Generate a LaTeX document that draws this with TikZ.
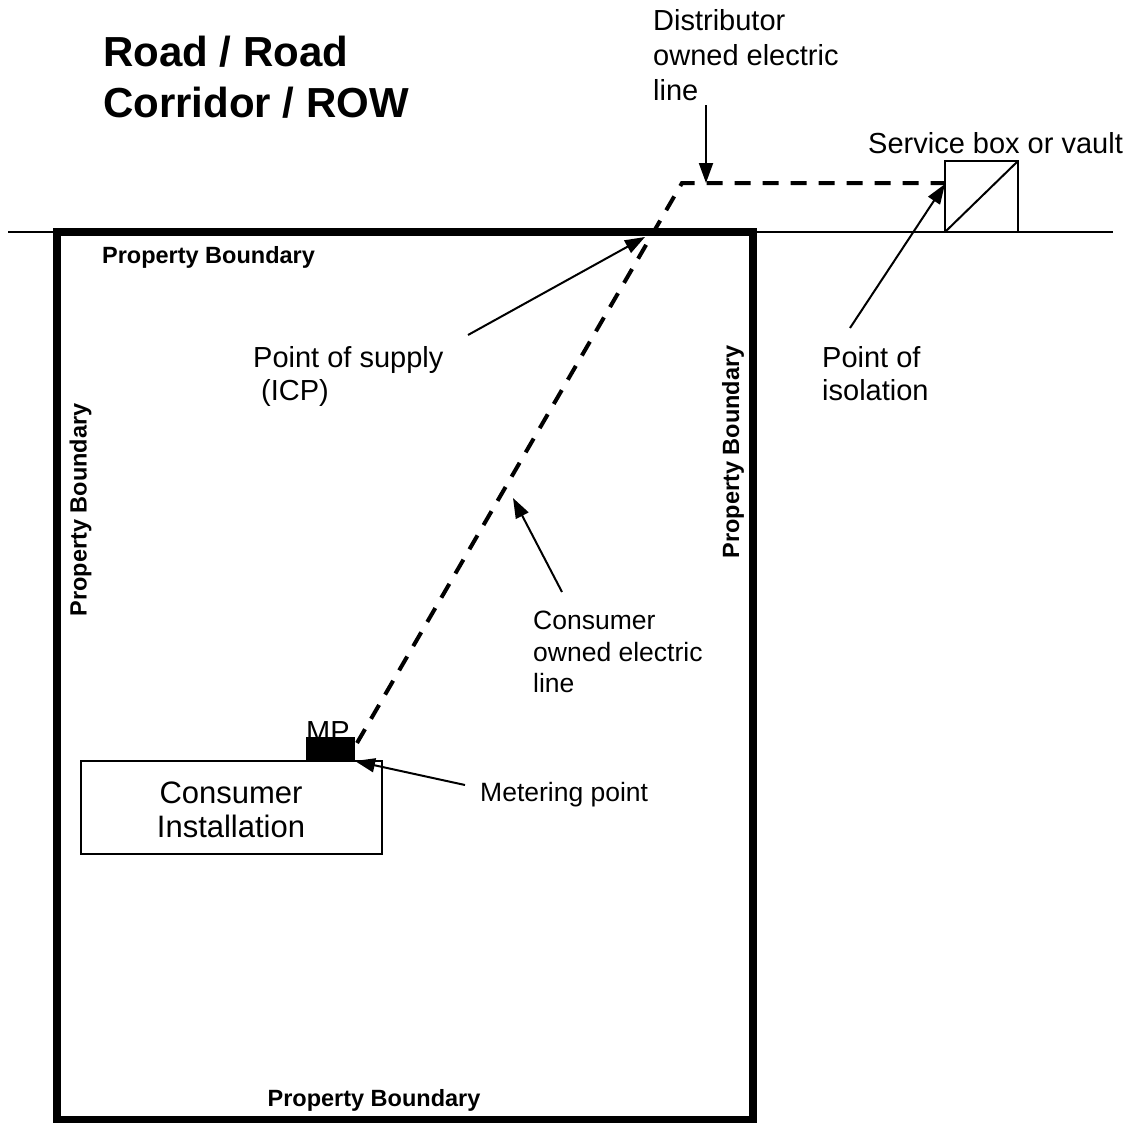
\documentclass[tikz,border=0pt]{standalone}
\usepackage{fontspec}
\setmainfont{Liberation Sans}
\usetikzlibrary{arrows.meta}
\begin{document}
\begin{tikzpicture}[x=1pt,y=-1pt,
  thinline/.style={line width=2pt},
  boundary/.style={line width=8pt},
  cable/.style={line width=4pt,dash pattern=on 16pt off 12pt},
  pointer/.style={line width=2pt,-{Triangle[length=20pt,width=14pt]}},
  lbl/.style={inner sep=0pt,font=\fontsize{29}{35}\selectfont,align=left,anchor=north west},
  smalllbl/.style={inner sep=0pt,font=\fontsize{26.5}{31.5}\selectfont,align=left},
  pb/.style={inner sep=0pt,font=\fontsize{23.5}{28}\selectfont\bfseries,anchor=base}]
\useasboundingbox (0,0) rectangle (1135,1122);
% road line
\coordinate (roadL) at (8,232);
\coordinate (roadR) at (1113,232);
\draw[thinline] (roadL) -- (roadR);
% property boundary
\coordinate (p1) at (57,232);
\coordinate (p2) at (753,1120);
\draw[boundary] (p1) rectangle (p2);
% service box
\coordinate (sb1) at (945,232);
\coordinate (sb2) at (1018,161);
\draw[thinline,fill=white] (sb1) rectangle (sb2);
\draw[thinline] (sb1) -- (sb2);
% title
\node[inner sep=0pt,anchor=north west,align=left,font=\fontsize{42}{51}\selectfont\bfseries] (title) at (103,36) {Road / Road\\Corridor / ROW};
% labels
\node[lbl] (dist) at (653,9) {Distributor\\owned electric\\line};
\node[lbl] (svc) at (868,132) {Service box or vault};
\node[lbl,font=\fontsize{29}{33}\selectfont] (pos) at (253,346) {Point of supply\\\hspace*{8pt}(ICP)};
\node[lbl,font=\fontsize{29}{33}\selectfont] (poi) at (822,346) {Point of\\isolation};
\node[smalllbl,anchor=north west] (col) at (533,611) {Consumer\\owned electric\\line};
\node[smalllbl,anchor=base west] (mpl) at (480,801) {Metering point};
\node[pb] (pbtop) at (208.5,263) {Property Boundary};
\node[pb] (pbbot) at (374,1106) {Property Boundary};
\node[pb,rotate=90] (pbleft) at (86.5,510) {Property Boundary};
\node[pb,rotate=90] (pbright) at (739,452) {Property Boundary};
% consumer installation
\node[thinline,draw,fill=white,minimum width=301pt,minimum height=93pt,inner sep=0pt] (ci) at (231.5,807.5) {};
\node[inner sep=0pt,align=center,font=\fontsize{31}{34}\selectfont] (citext) at (231,810) {Consumer\\Installation};
% MP
\node[inner sep=0pt,anchor=base west,font=\fontsize{29}{35}\selectfont] (mptext) at (306,741) {MP};
\coordinate (mp1) at (306,737);
\coordinate (mp2) at (355,761);
\fill (mp1) rectangle (mp2);
% cable
\coordinate (c1) at (357,743);
\coordinate (c2) at (682,183);
\coordinate (c3) at (945,183);
\draw[cable] (c1) -- (c2) -- (c3);
% pointers
\coordinate (a1s) at (706,105); \coordinate (a1e) at (706,183);
\coordinate (a2s) at (850,328); \coordinate (a2e) at (945,184);
\coordinate (a3s) at (468,335); \coordinate (a3e) at (645,237);
\coordinate (a4s) at (562,592); \coordinate (a4e) at (513,498);
\coordinate (a5s) at (465,785); \coordinate (a5e) at (355,761);
\draw[pointer] (a1s) -- (a1e);
\draw[pointer] (a2s) -- (a2e);
\draw[pointer] (a3s) -- (a3e);
\draw[pointer] (a4s) -- (a4e);
\draw[pointer] (a5s) -- (a5e);
\end{tikzpicture}
\end{document}
